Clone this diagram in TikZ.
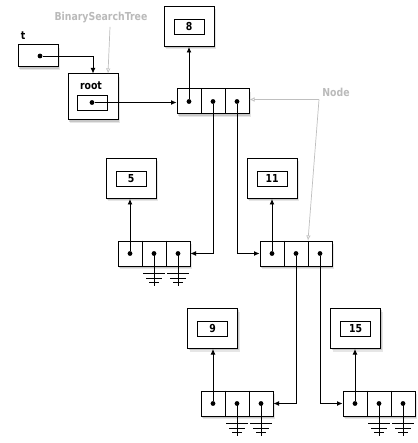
\documentclass[tikz,border=0pt]{standalone}
\usepackage{fontspec}
\newfontfamily\hf{DejaVu Sans}[FakeStretch=0.85]
\usetikzlibrary{arrows.meta,shadows}
\begin{document}
\begin{tikzpicture}[x=1pt,y=-1pt,
  shad/.style={drop shadow={opacity=0.3,shadow xshift=1.2pt,shadow yshift=-1.8pt},
               drop shadow={opacity=0.2,shadow xshift=2.2pt,shadow yshift=-3pt}},
  vbox/.style={draw,line width=1pt,fill=white,shad,inner sep=0,minimum width=50pt,minimum height=40pt},
  ibox/.style={draw,line width=0.9pt,inner sep=0,minimum width=30pt,minimum height=15pt,font=\hf\bfseries\fontsize{11}{11}\selectfont},
  tnode/.style={draw,line width=1pt,fill=white,shad,inner sep=0,minimum width=72pt,minimum height=25pt},
  dot/.style={circle,fill,inner sep=0,minimum size=4.8pt},
  arr/.style={line width=0.9pt,-{Latex[length=5.5pt,width=5pt]}},
  garr/.style={draw=black!25,line width=0.7pt,-{Latex[open,length=5pt,width=4.5pt]}},
  lbl/.style={font=\hf\bfseries\fontsize{11}{11}\selectfont},
  glbl/.style={lbl,text=black!27},
  gnd/.pic={\draw[line width=0.8pt] (0,0) -- (0,32) (-11,20) -- (11,20) (-8,25) -- (8,25) (-5,29) -- (5,29);}
]
\useasboundingbox (0,0) rectangle (417,443);

% labels
\node[glbl] (bst) at (101,18) {BinarySearchTree};
\node[glbl] (nlbl) at (336,92) {Node};
\node[lbl] (tl) at (23,36) {t};

% t box
\node[draw,line width=1pt,fill=white,shad,inner sep=0,minimum width=40pt,minimum height=22pt] (tb) at (38,56) {};
\node[dot] (td) at (40,56) {};

% root box
\node[vbox,minimum height=46pt] (root) at (93,97) {};
\node[lbl] (rootl) at (91,86) {root};
\node[ibox] (rooti) at (92,102.5) {};
\node[dot] (rd) at (92,102.5) {};

% tree nodes
\foreach \n/\x/\y in {n8/213/101.5, n5/154/253.5, n11/296/253.5, n9/237/403.5, n15/379/403.5}{
  \node[tnode] (\n) at (\x,\y) {};
  \draw[line width=1pt] ([xshift=-12pt]\n.north) -- ([xshift=-12pt]\n.south)
                        ([xshift=12pt]\n.north) -- ([xshift=12pt]\n.south);
}

% value boxes
\foreach \n/\x/\y/\t in {v8/189/26.5/8, v5/131/178.5/5, v11/272/178.5/11, v9/212.5/328.5/9, v15/355.5/328.5/15}{
  \node[vbox] (\n) at (\x,\y) {};
  \node[ibox] (\n i) at (\x,\y) {\t};
}

% ground symbols
\foreach \n in {n5,n9,n15}{
  \pic at ([xshift=0pt]\n.center) {gnd};
  \pic at ([xshift=24pt]\n.center) {gnd};
}

% dots
\foreach \n in {n8,n5,n11,n9,n15}{
  \node[dot] (\n l) at ([xshift=-24pt]\n.center) {};
  \node[dot] (\n m) at (\n.center) {};
  \node[dot] (\n r) at ([xshift=24pt]\n.center) {};
}

% connectors
\draw[arr] (td) -| (root.north);
\draw[arr] (rd) -- (rd -| n8.west);
\foreach \n/\v in {n8/v8, n5/v5, n11/v11, n9/v9, n15/v15}{
  \draw[arr] (\n l) -- (\n l |- \v.south);
}
\draw[arr] (n8m) |- (n5.east);
\draw[arr] (n8r) |- (n11.west);
\draw[arr] (n11m) |- (n9.east);
\draw[arr] (n11r) |- (n15.west);

% gray pointers
\coordinate (nc) at (319,99.5);
\draw[garr] ([xshift=9pt]bst.south) -- ([xshift=15pt]root.north);
\draw[garr] (nc) -- (nc -| n8.east);
\draw[garr] (nc) -- ([xshift=12pt]n11.north);
\end{tikzpicture}
\end{document}
